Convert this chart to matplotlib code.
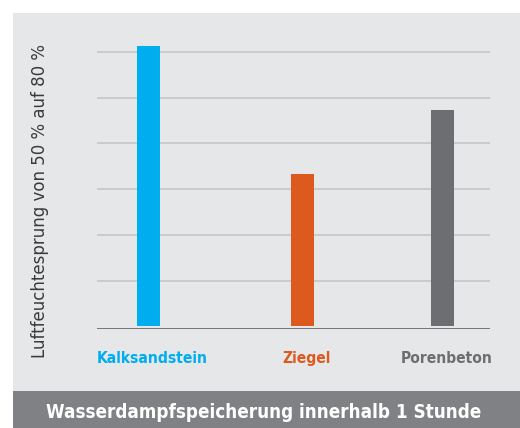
import matplotlib.pyplot as plt
from matplotlib.patches import Rectangle

# data
materials = ['Kalksandstein', 'Ziegel', 'Porenbeton']
values = [6.13, 3.33, 4.72]
colors = ['#00aeef', '#dc5a1e', '#6d6e71']
positions = [0.131, 0.523, 0.879]
grid_levels = [1, 2, 3, 4, 5, 6]

W, H = 520.0, 428.0
fig = plt.figure(figsize=(W / 100, H / 100), dpi=100)
fig.patch.set_facecolor('white')

# light gray panel and dark title band
fig.patches.append(Rectangle((13 / W, (H - 391) / H), (W - 13) / W, 378 / H,
                             transform=fig.transFigure, facecolor='#e6e7e8',
                             edgecolor='none', zorder=-5))
fig.patches.append(Rectangle((13 / W, 0), (W - 13) / W, (H - 391) / H,
                             transform=fig.transFigure, facecolor='#808184',
                             edgecolor='none', zorder=-5))

ax = fig.add_axes([97 / W, (H - 329) / H, 393 / W, 289 / H])
ax.set_facecolor('none')
ax.set_zorder(2)

for lv in grid_levels:
    ax.axhline(lv, color='#c8c9cb', linewidth=1.3, zorder=1)
ax.axhline(-0.06, color='#6d6e71', linewidth=1.3, zorder=3)

ax.bar(positions, values, width=0.0585, color=colors, zorder=2)

ax.set_xlim(0, 1)
ax.set_ylim(-0.06, 6.26)
for s in ax.spines.values():
    s.set_visible(False)
ax.set_xticks([])
ax.set_yticks([])

# category labels
for p, name, c in zip(positions, materials, colors):
    ax.text(p + 0.01, -0.7, name, ha='center', va='center', color=c,
            fontsize=11.2, fontweight='bold', fontstretch='condensed',
            clip_on=False)

# y label
fig.text(40 / W, 1 - 201 / H, 'Luftfeuchtesprung von 50 % auf 80 %',
         rotation=90, ha='center', va='center', fontsize=12,
         color='#3a3a3a', fontweight='normal')

# title band text
fig.text(264 / W, 1 - 413 / H, 'Wasserdampfspeicherung innerhalb 1 Stunde',
         ha='center', va='center', fontsize=13.5, color='white',
         fontweight='bold', fontstretch='condensed')

plt.savefig('out.png', dpi=100)
